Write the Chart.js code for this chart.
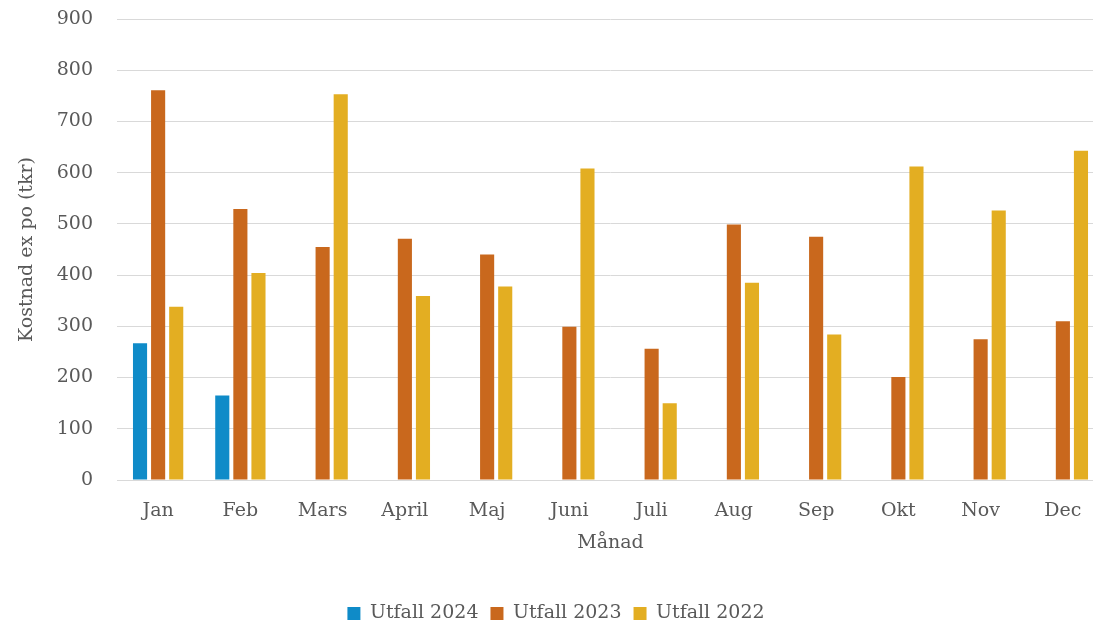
<!DOCTYPE html>
<html>
<head>
<meta charset="utf-8">
<script src="https://cdn.jsdelivr.net/npm/chart.js@4/dist/chart.umd.min.js"></script>
<style>
html,body{margin:0;padding:0;background:#fff;overflow:hidden;width:1093px;height:628px;}
#wrap{width:1126px;height:628px;}
</style>
</head>
<body>
<div id="wrap"><canvas id="c" width="1126" height="628"></canvas></div>
<script>
const categories = ["Jan","Feb","Mars","April","Maj","Juni","Juli","Aug","Sep","Okt","Nov","Dec"];
const utfall2024 = [267,165,null,null,null,null,null,null,null,null,null,null];
const utfall2023 = [761,529,455,471,440,299,256,499,475,201,275,310];
const utfall2022 = [338,404,753,359,378,608,150,385,284,612,526,643];
const yTicks = [0,100,200,300,400,500,600,700,800,900];

const FONT = "'DejaVu Serif', serif";
const GREY = '#595959';
const FS = 19;

new Chart(document.getElementById('c'), {
  type: 'bar',
  data: {
    labels: categories,
    datasets: [
      {label: 'Utfall 2024', data: utfall2024, backgroundColor: '#0F8BC8'},
      {label: 'Utfall 2023', data: utfall2023, backgroundColor: '#C9681D'},
      {label: 'Utfall 2022', data: utfall2022, backgroundColor: '#E3AE22'}
    ]
  },
  options: {
    responsive: false,
    animation: false,
    devicePixelRatio: 1,
    layout: {padding: {left: 8, top: 19, right: 22, bottom: -5}},
    datasets: {bar: {categoryPercentage: 0.66, barPercentage: 0.78}},
    plugins: {
      tooltip: {enabled: false},
      legend: {
        position: 'bottom',
        labels: {
          font: {family: FONT, size: FS},
          color: GREY,
          boxWidth: 13,
          boxHeight: 13,
          padding: 12
        }
      }
    },
    scales: {
      x: {
        grid: {display: false, drawTicks: false},
        border: {display: true, color: '#d9d9d9'},
        ticks: {font: {family: FONT, size: FS}, color: GREY, padding: 20},
        title: {display: true, text: 'Månad', font: {family: FONT, size: FS}, color: GREY, padding: {top: 0, bottom: 38}},
        afterFit: (s) => { s.height = 112; }
      },
      y: {
        min: 0, max: 900,
        afterBuildTicks: (s) => { s.ticks = yTicks.map(v => ({value: v})); },
        grid: {color: '#d9d9d9', drawTicks: true, tickLength: 24, tickColor: 'rgba(0,0,0,0)'},
        border: {display: false},
        ticks: {font: {family: FONT, size: FS}, color: GREY, padding: 0},
        title: {display: true, text: 'Kostnad ex po (tkr)', font: {family: FONT, size: FS}, color: GREY, padding: {top: 8, bottom: 0}},
        afterFit: (s) => { s.width = 109; }
      }
    }
  }
});
</script>
</body>
</html>
